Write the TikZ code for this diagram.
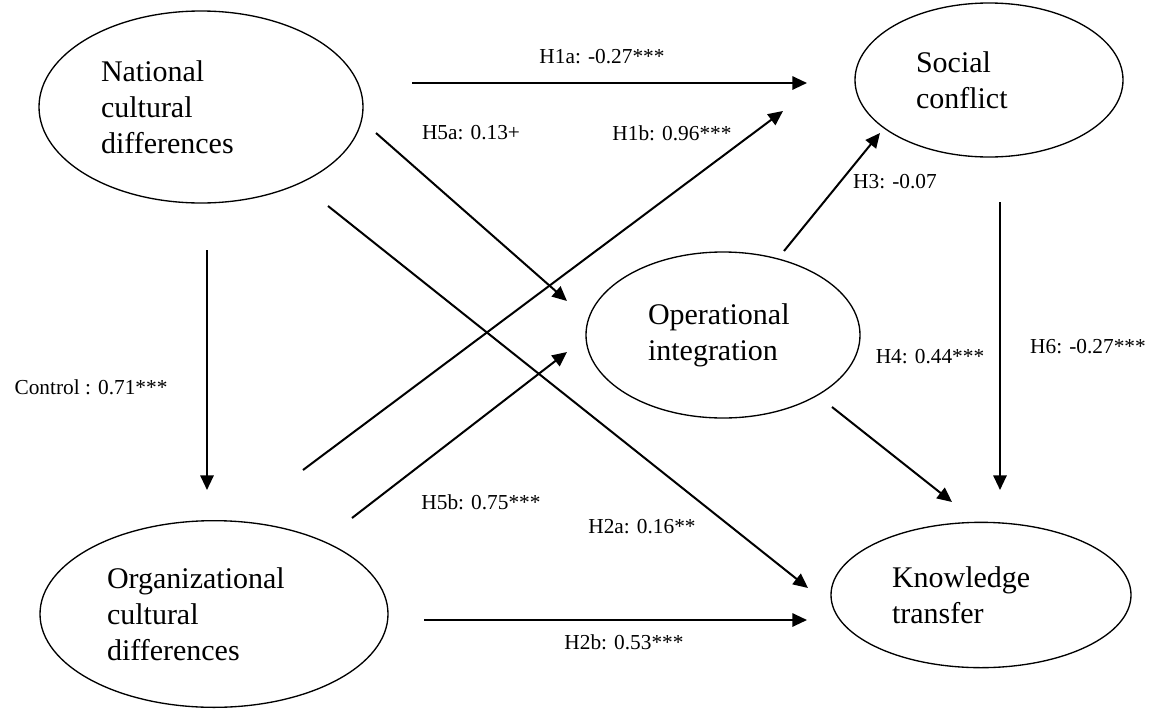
\documentclass[tikz,border=0pt]{standalone}
\usepackage{fontspec}
\setmainfont{Liberation Serif}
\usetikzlibrary{shapes.geometric,arrows.meta}
\begin{document}
\begin{tikzpicture}[x=0.75pt,y=-0.75pt,
  construct/.style={draw, ellipse, line width=1pt, inner sep=0pt, align=left,
    font=\fontsize{22.5}{27}\selectfont},
  path/.style={line width=1.5pt, -{Triangle[length=11pt,width=10pt]}},
  coef/.style={font=\fontsize{16}{19}\selectfont, inner sep=0pt}]
\useasboundingbox (0,0) rectangle (1157,714);
% constructs
\node[construct, minimum width=243pt, minimum height=144pt, text width=150pt] (nat) at (201,107) {National\\cultural\\differences};
\node[construct, minimum width=201pt, minimum height=115.5pt, text width=109.5pt] (soc) at (989,80) {Social\\conflict};
\node[construct, minimum width=205.5pt, minimum height=124.5pt, text width=112.5pt] (opi) at (723,335) {Operational\\integration};
\node[construct, minimum width=261pt, minimum height=140pt, text width=160.5pt] (org) at (214,614) {Organizational\\cultural\\differences};
\node[construct, minimum width=225pt, minimum height=109pt, text width=133.5pt] (kt) at (981,595) {Knowledge\\transfer};
% connector end points
\coordinate (h1a-s) at (412,83);   \coordinate (h1a-e) at (807,83);
\coordinate (h5a-s) at (376,133);  \coordinate (h5a-e) at (567,301);
\coordinate (h2a-s) at (328,206);  \coordinate (h2a-e) at (808,588);
\coordinate (h1b-s) at (303,470);  \coordinate (h1b-e) at (783,111);
\coordinate (h5b-s) at (352,518);  \coordinate (h5b-e) at (567,352);
\coordinate (h3-s)  at (784,251);  \coordinate (h3-e)  at (880,133);
\coordinate (h4-s)  at (832,407);  \coordinate (h4-e)  at (952,502);
\coordinate (h6-s)  at (1000,202); \coordinate (h6-e)  at (1000,490);
\coordinate (ctl-s) at (207,250);  \coordinate (ctl-e) at (207,490);
\coordinate (h2b-s) at (424,620);  \coordinate (h2b-e) at (807,620);
% connectors
\draw[path] (h1a-s) -- (h1a-e);
\draw[path] (h5a-s) -- (h5a-e);
\draw[path] (h2a-s) -- (h2a-e);
\draw[path] (h1b-s) -- (h1b-e);
\draw[path] (h5b-s) -- (h5b-e);
\draw[path] (h3-s) -- (h3-e);
\draw[path] (h4-s) -- (h4-e);
\draw[path] (h6-s) -- (h6-e);
\draw[path] (ctl-s) -- (ctl-e);
\draw[path] (h2b-s) -- (h2b-e);
% coefficients
\node[coef] (l-h1a) at (602,57) {H1a: -0.27***};
\node[coef] (l-h5a) at (471,133) {H5a: 0.13+};
\node[coef] (l-h1b) at (672,133) {H1b: 0.96***};
\node[coef] (l-h3) at (895,182) {H3: -0.07};
\node[coef] (l-h4) at (930,357) {H4: 0.44***};
\node[coef] (l-h6) at (1088,347) {H6: -0.27***};
\node[coef] (l-ctl) at (91,387) {Control : 0.71***};
\node[coef] (l-h5b) at (481,502) {H5b: 0.75***};
\node[coef] (l-h2a) at (642,527) {H2a: 0.16**};
\node[coef] (l-h2b) at (624,642) {H2b: 0.53***};
\end{tikzpicture}
\end{document}
